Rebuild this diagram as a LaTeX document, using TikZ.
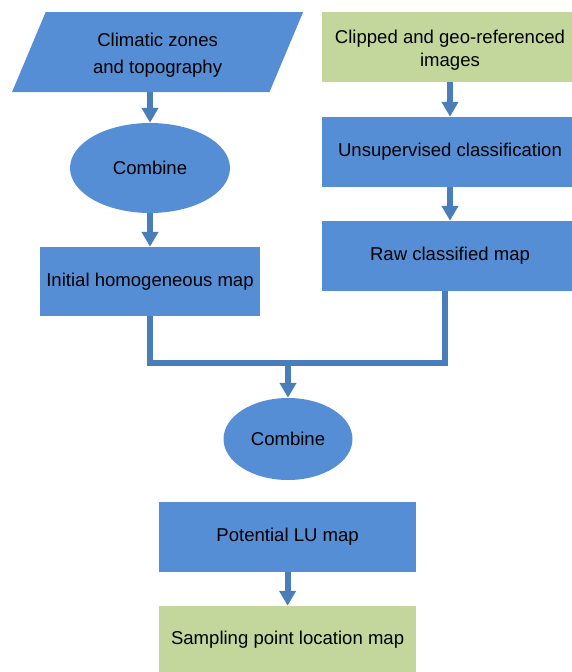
\documentclass[tikz,border=0pt]{standalone}
\usepackage{fontspec}
\setmainfont{Liberation Sans}
\usetikzlibrary{arrows.meta,positioning,shapes.geometric,calc}
\definecolor{lublue}{HTML}{558ED5}
\definecolor{luarrow}{HTML}{4A7EBB}
\definecolor{lugreen}{HTML}{C3D69B}
\newcommand{\lowstrut}{\rule{0pt}{14pt}}

\begin{document}
\begin{tikzpicture}[
    box/.style={fill=lublue, minimum width=5.5cm, minimum height=1.75cm, align=center, inner sep=0pt, font=\fontsize{13.2}{16.3}\selectfont},
    gbox/.style={box, fill=lugreen},
    oval/.style={ellipse, fill=lublue, inner sep=0pt, align=center, font=\fontsize{13.2}{16.3}\selectfont},
    slant/.style={trapezium, trapezium stretches=true, trapezium left angle=69, trapezium right angle=111, fill=lublue, inner sep=0pt, align=center, font=\fontsize{13.2}{19.2}\selectfont},
    arrow/.style={-{Triangle[width=0.4cm, length=0.37cm]}, line width=0.15cm, draw=luarrow},
    link/.style={line width=0.15cm, draw=luarrow}
]
\useasboundingbox (0,0) rectangle (14.3,-16.8);

% Left branch
\node[slant, minimum width=7.28cm, minimum height=2cm] (zones) at (3.94,-1.3) {\lowstrut Climatic zones\\and topography};
\node[oval, minimum width=4cm, minimum height=2.25cm] (comb1) at (3.75,-4.2) {Combine};
\node[box, minimum height=1.73cm] (initmap) at (3.75,-7.04) {Initial homogeneous map};

% Right branch
\node[gbox, minimum width=6.4cm] (clip) at (11.25,-1.175) {\lowstrut Clipped and geo-referenced\\images};
\node[box, minimum width=6.4cm] (unsup) at (11.25,-3.8) {Unsupervised classification};
\node[box, minimum width=6.4cm] (raw) at (11.25,-6.4) {Raw classified map};

% Merge
\coordinate (rawout) at ($(raw.south)+(-0.125,0)$);
\coordinate (join) at (7.2,-9.075);
\node[oval, minimum width=3.225cm, minimum height=2.05cm] (comb2) at (7.2,-10.975) {Combine};

% Outputs
\node[box, minimum width=6.425cm] (lumap) at (7.19,-13.425) {Potential LU map};
\node[gbox, minimum width=6.425cm, minimum height=1.7cm] (sample) at (7.19,-16.0) {Sampling point location map};

% Arrows
\draw[arrow] (zones.south -| comb1.north) -- (comb1.north);
\draw[arrow] (comb1) -- (initmap);
\draw[arrow] (clip) -- (unsup);
\draw[arrow] (unsup) -- (raw);
\draw[link] (initmap.south) |- (join) -| (rawout);
\draw[arrow] (join) -- (comb2);
\draw[arrow] (lumap) -- (sample);
\end{tikzpicture}
\end{document}
